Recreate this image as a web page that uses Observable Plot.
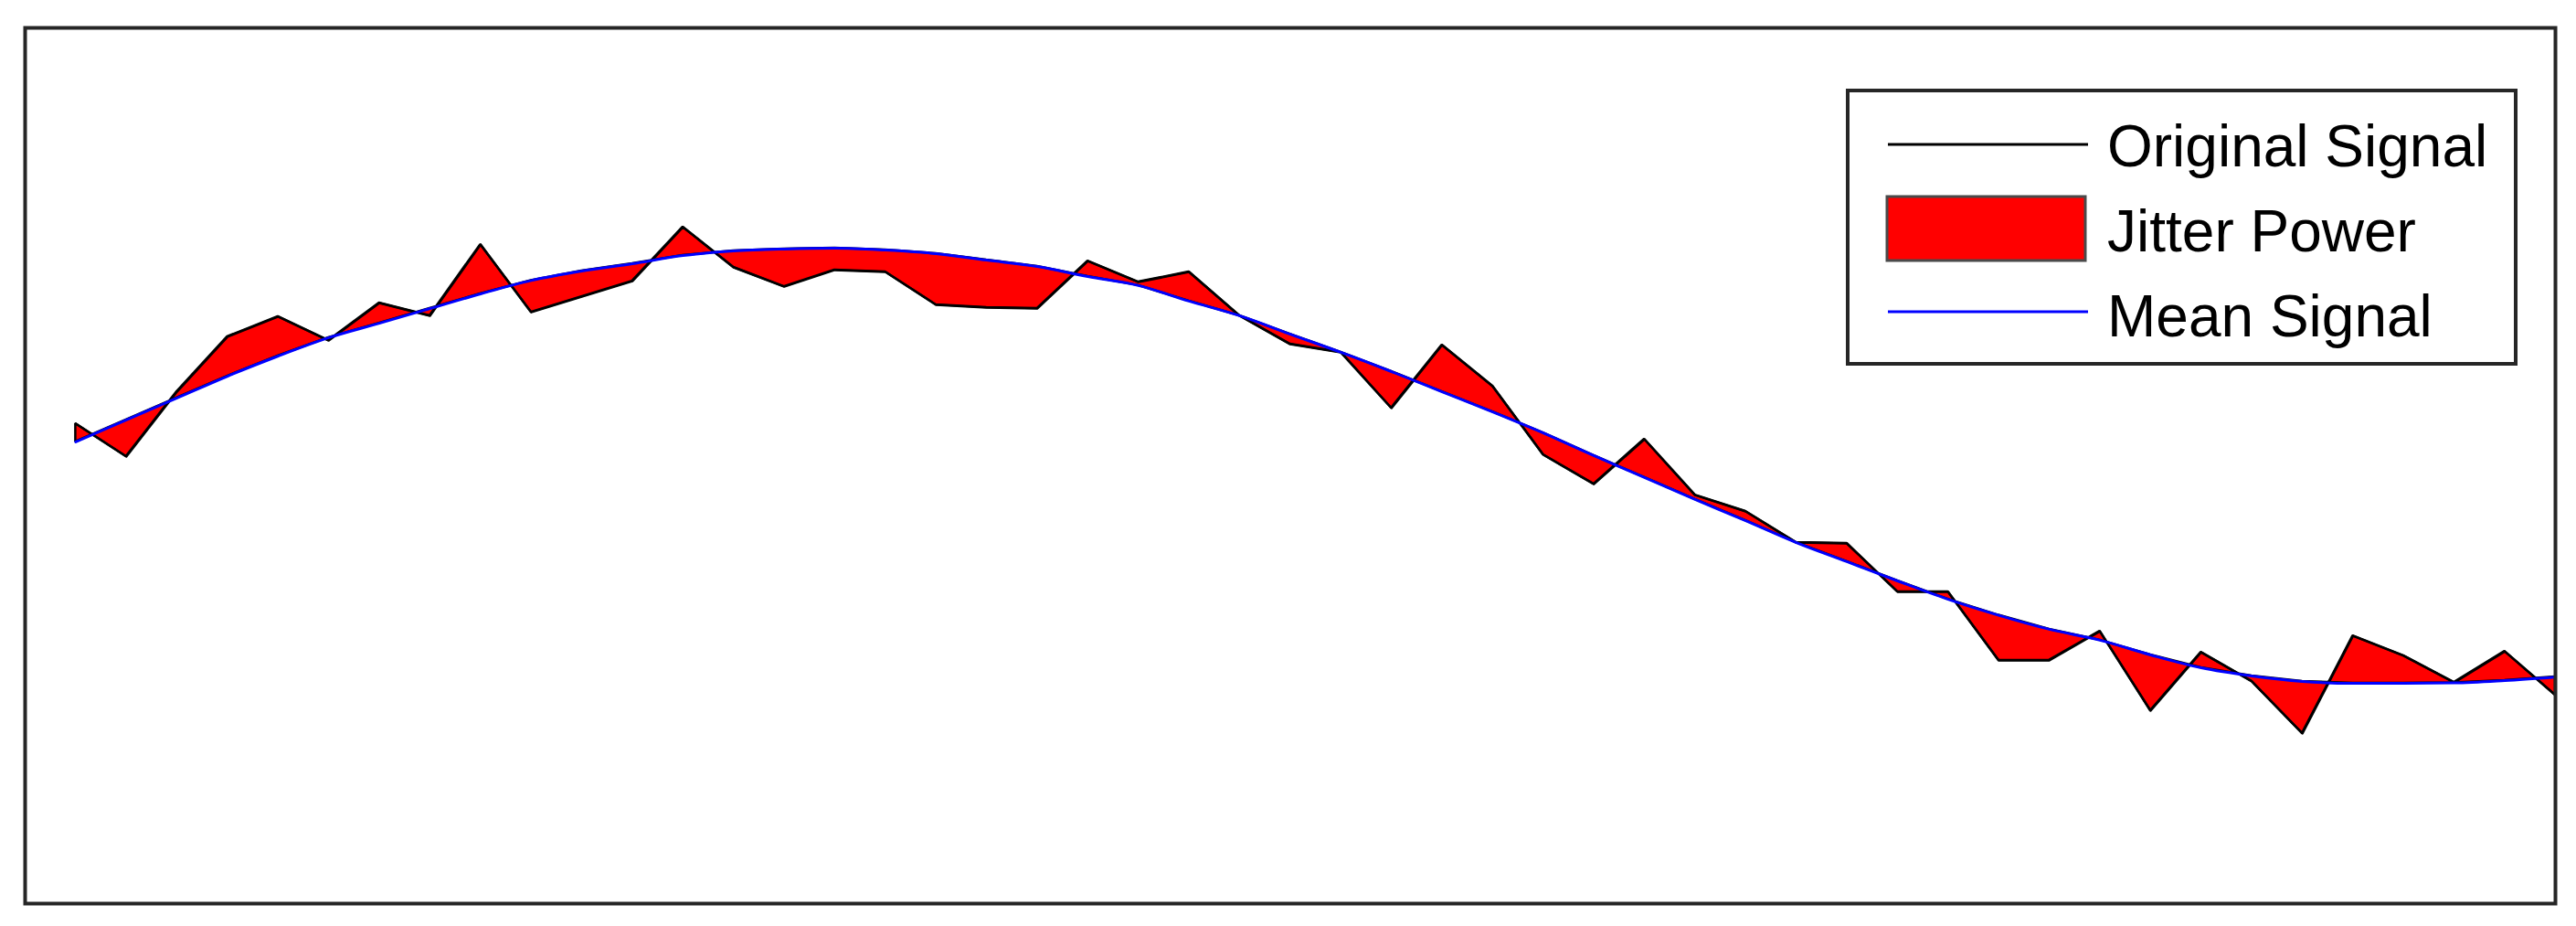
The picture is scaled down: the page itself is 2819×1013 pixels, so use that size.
<!DOCTYPE html>
<html><head><meta charset="utf-8">
<script src="https://cdn.jsdelivr.net/npm/d3@7"></script>
<script src="https://cdn.jsdelivr.net/npm/@observablehq/plot@0.6"></script>
<style>
html,body{margin:0;padding:0;background:#fff;}
#wrap{position:relative;width:2819px;height:1013px;}
#wrap svg{display:block;}
#legend{position:absolute;left:0;top:0;pointer-events:none;}
</style></head><body><div id="wrap"></div>
<script>
const sampleIndex = [1,2,3,4,5,6,7,8,9,10,11,12,13,14,15,16,17,18,19,20,21,22,23,24,25,26,27,28,29,30,31,32,33,34,35,36,37,38,39,40,41,42,43,44,45,46,47,48,49,50];
const originalSignal = [0.192,0.042,0.338,0.589,0.681,0.572,0.743,0.685,1.010,0.701,
  0.772,0.843,1.090,0.906,0.818,0.894,0.885,0.735,0.722,0.718,
  0.935,0.839,0.885,0.685,0.555,0.518,0.263,0.551,0.363,0.050,
  -0.084,0.121,-0.134,-0.209,-0.351,-0.355,-0.576,-0.576,-0.889,-0.889,
  -0.756,-1.119,-0.852,-0.985,-1.223,-0.777,-0.868,-0.990,-0.848,-1.048];
const meanSignal = [0.109,0.209,0.309,0.409,0.501,0.585,0.651,0.718,0.785,0.846,
  0.889,0.923,0.960,0.981,0.990,0.994,0.985,0.969,0.939,0.910,
  0.864,0.823,0.752,0.685,0.601,0.518,0.430,0.338,0.246,0.150,
  0.046,-0.054,-0.154,-0.251,-0.351,-0.438,-0.526,-0.610,-0.683,-0.747,
  -0.797,-0.864,-0.923,-0.960,-0.985,-0.994,-0.994,-0.992,-0.981,-0.965];
const legendLabels = ["Original Signal", "Jitter Power", "Mean Signal"];
const xLimits = [0, 50];
const yLimits = [-2, 2];

const data = sampleIndex.map((x, i) => ({x, signal: originalSignal[i], mean: meanSignal[i]}));

const chart = Plot.plot({
  width: 2819, height: 1013,
  marginLeft: 27, marginTop: 30, marginRight: 23, marginBottom: 25,
  x: {domain: xLimits, axis: null},
  y: {domain: yLimits, axis: null},
  style: {background: "white"},
  marks: [
    Plot.areaY(data, {x: "x", y1: "mean", y2: "signal", fill: "#ff0000", stroke: "#000", strokeWidth: 2.5, strokeLinejoin: "miter"}),
    Plot.line(data, {x: "x", y: "signal", stroke: "#000", strokeWidth: 2.5}),
    Plot.line(data, {x: "x", y: "mean", stroke: "#0000ff", strokeWidth: 3, curve: "monotone-x"}),
    Plot.frame({stroke: "#262626", strokeWidth: 4})
  ]
});
const wrap = document.getElementById("wrap");
wrap.appendChild(chart);

// Legend overlay
const lg = d3.select(wrap).append("svg").attr("id", "legend")
  .attr("width", 2819).attr("height", 1013);
lg.append("rect").attr("x", 2022).attr("y", 99).attr("width", 731).attr("height", 299)
  .attr("fill", "#fff").attr("stroke", "#262626").attr("stroke-width", 4);
lg.append("line").attr("x1", 2066).attr("x2", 2285).attr("y1", 158).attr("y2", 158)
  .attr("stroke", "#000").attr("stroke-width", 3);
lg.append("rect").attr("x", 2065).attr("y", 215).attr("width", 217).attr("height", 70)
  .attr("fill", "#ff0000").attr("stroke", "#4a4a4a").attr("stroke-width", 3);
lg.append("line").attr("x1", 2066).attr("x2", 2285).attr("y1", 341).attr("y2", 341)
  .attr("stroke", "#0000ff").attr("stroke-width", 3);
const baselines = [182, 275, 368];
legendLabels.forEach((t, i) => {
  lg.append("text").attr("x", 2306).attr("y", baselines[i])
    .attr("font-family", "'Liberation Sans', Arial, sans-serif").attr("font-size", 64)
    .attr("fill", "#000").text(t);
});
</script></body></html>
